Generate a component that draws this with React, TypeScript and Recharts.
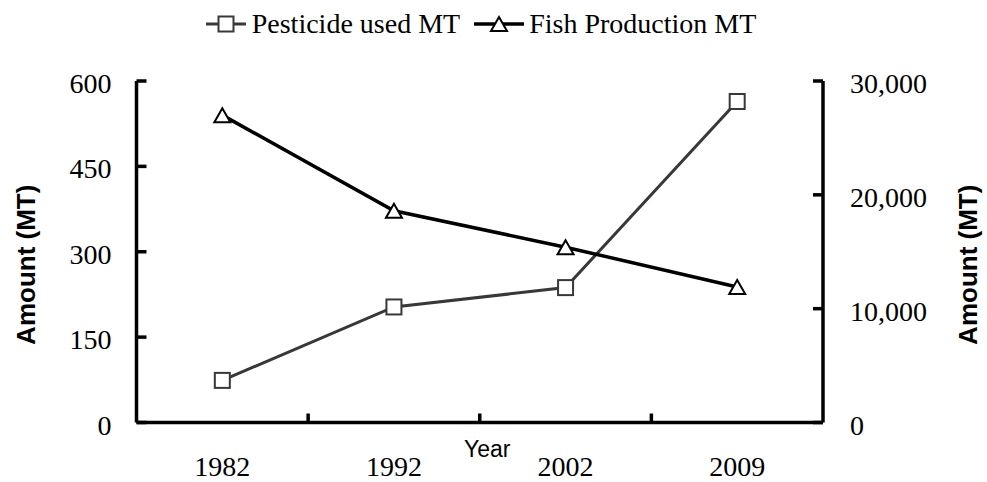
import React from 'react';
import { LineChart, Line, XAxis, YAxis, Legend } from 'recharts';

const years = ['1982', '1992', '2002', '2009'];
const pesticideUsed = [74, 203, 237, 564];
const fishProduction = [27000, 18600, 15400, 11900];
const leftTicks = [0, 150, 300, 450, 600];
const rightTicks = [0, 10000, 20000, 30000];
const seriesNames = ['Pesticide used MT', 'Fish Production MT'];

const data = years.map((y, i) => ({
  year: y,
  pesticide: pesticideUsed[i],
  fish: fishProduction[i],
}));

const SERIF = '"Liberation Serif", "Times New Roman", serif';
const SANS = '"Liberation Sans", Arial, sans-serif';
const PEST_COLOR = '#383838';

const SquareDot = (props: any) => {
  const { cx, cy } = props;
  if (cx == null || cy == null) return null;
  return <rect x={cx - 7.5} y={cy - 7.5} width={15} height={15} fill="#fff" stroke={PEST_COLOR} strokeWidth={2} />;
};

const TriangleDot = (props: any) => {
  const { cx, cy } = props;
  if (cx == null || cy == null) return null;
  return (
    <polygon
      points={`${cx},${cy - 7} ${cx + 8},${cy + 7} ${cx - 8},${cy + 7}`}
      fill="#fff"
      stroke="#000"
      strokeWidth={2}
      strokeLinejoin="miter"
    />
  );
};

const LeftTick = (props: any) => {
  const { x, y, payload } = props;
  return (
    <g>
      <line x1={x} x2={x + 10} y1={y} y2={y} stroke="#000" strokeWidth={3.5} />
      <text x={x - 25} y={y + 12} textAnchor="end" fontFamily={SERIF} fontSize={28} fill="#000">
        {payload.value}
      </text>
    </g>
  );
};

const RightTick = (props: any) => {
  const { x, y, payload } = props;
  return (
    <g>
      <line x1={x - 10} x2={x} y1={y} y2={y} stroke="#000" strokeWidth={3.5} />
      <text x={x + 27} y={y + 12} textAnchor="start" fontFamily={SERIF} fontSize={28} fill="#000">
        {Number(payload.value).toLocaleString('en-US')}
      </text>
    </g>
  );
};

const BottomTick = (props: any) => {
  const { x, y, payload, index, visibleTicksCount } = props;
  const off = payload && typeof payload.offset === 'number' ? payload.offset : 0;
  const showBoundary = index < (visibleTicksCount ?? years.length) - 1 && off > 0;
  return (
    <g>
      {showBoundary && (
        <line x1={x + off} x2={x + off} y1={y} y2={y - 9} stroke="#000" strokeWidth={3.5} />
      )}
      <text x={x} y={y + 53.5} textAnchor="middle" fontFamily={SERIF} fontSize={28} fill="#000">
        {payload.value}
      </text>
    </g>
  );
};

const YTitle = (props: any) => {
  const { viewBox, side } = props;
  if (!viewBox) return null;
  const cy = viewBox.y + viewBox.height / 2 + 13;
  const cx = side === 'left' ? viewBox.x + 35 : viewBox.x + viewBox.width - 10;
  return (
    <text
      x={cx}
      y={cy}
      transform={`rotate(-90 ${cx} ${cy})`}
      textAnchor="middle"
      fontFamily={SANS}
      fontWeight="bold"
      fontSize={26}
      fill="#000"
    >
      Amount (MT)
    </text>
  );
};

const XTitle = (props: any) => {
  const { viewBox } = props;
  if (!viewBox) return null;
  const cx = viewBox.x + viewBox.width / 2 + 7.5;
  const cy = viewBox.y + 34.5;
  return (
    <text x={cx} y={cy} textAnchor="middle" fontFamily={SANS} fontSize={23} fill="#000">
      Year
    </text>
  );
};

const LegendIcon = ({ kind, width }: { kind: 'square' | 'triangle'; width: number }) => {
  const mid = width / 2;
  return (
    <svg width={width} height={31} style={{ display: 'block' }}>
      <line
        x1={0}
        x2={width}
        y1={16}
        y2={16}
        stroke={kind === 'square' ? PEST_COLOR : '#000'}
        strokeWidth={kind === 'square' ? 3 : 3.5}
      />
      {kind === 'square' ? (
        <rect x={mid - 7.5} y={16 - 7.5} width={15} height={15} fill="#fff" stroke={PEST_COLOR} strokeWidth={2} />
      ) : (
        <polygon points={`${mid},${16 - 7} ${mid + 8},${16 + 7} ${mid - 8},${16 + 7}`} fill="#fff" stroke="#000" strokeWidth={2} />
      )}
    </svg>
  );
};

const LegendContent = () => {
  return (
    <div
      style={{
        height: 81,
        boxSizing: 'border-box',
        paddingTop: 8,
        paddingRight: 25,
        display: 'flex',
        justifyContent: 'center',
        alignItems: 'flex-start',
        fontFamily: SERIF,
        fontSize: 28,
        lineHeight: '31px',
        color: '#000',
        whiteSpace: 'nowrap',
      }}
    >
      <div style={{ display: 'flex', alignItems: 'center' }}>
        <LegendIcon kind="square" width={40} />
        <span style={{ marginLeft: 6 }}>{seriesNames[0]}</span>
      </div>
      <div style={{ display: 'flex', alignItems: 'center', marginLeft: 14 }}>
        <LegendIcon kind="triangle" width={50} />
        <span style={{ marginLeft: 5 }}>{seriesNames[1]}</span>
      </div>
    </div>
  );
};

export default function App() {
  return (
    <div style={{ position: 'absolute', left: 0, top: 0, background: '#fff' }}>
      <LineChart width={987} height={482} data={data} margin={{ top: 0, right: 0, bottom: 0, left: 0 }}>
        <Legend verticalAlign="top" align="center" content={<LegendContent />} />
        <XAxis
          dataKey="year"
          scale="band"
          height={59.5}
          interval={0}
          tickLine={false}
          tickSize={0}
          tickMargin={0}
          axisLine={{ stroke: '#000', strokeWidth: 3.5 }}
          tick={<BottomTick />}
          label={<XTitle />}
        />
        <YAxis
          yAxisId="left"
          orientation="left"
          width={136.5}
          domain={[0, 600]}
          ticks={leftTicks}
          interval={0}
          tickLine={false}
          tickSize={0}
          tickMargin={0}
          axisLine={{ stroke: '#000', strokeWidth: 3.5 }}
          tick={<LeftTick />}
          label={<YTitle side="left" />}
        />
        <YAxis
          yAxisId="right"
          orientation="right"
          width={164}
          domain={[0, 30000]}
          ticks={rightTicks}
          interval={0}
          tickLine={false}
          tickSize={0}
          tickMargin={0}
          axisLine={{ stroke: '#000', strokeWidth: 3.5 }}
          tick={<RightTick />}
          label={<YTitle side="right" />}
        />
        <Line
          yAxisId="left"
          dataKey="pesticide"
          name={seriesNames[0]}
          stroke={PEST_COLOR}
          strokeWidth={3}
          dot={<SquareDot />}
          activeDot={false}
          isAnimationActive={false}
        />
        <Line
          yAxisId="right"
          dataKey="fish"
          name={seriesNames[1]}
          stroke="#000"
          strokeWidth={3.5}
          dot={<TriangleDot />}
          activeDot={false}
          isAnimationActive={false}
        />
      </LineChart>
    </div>
  );
}
